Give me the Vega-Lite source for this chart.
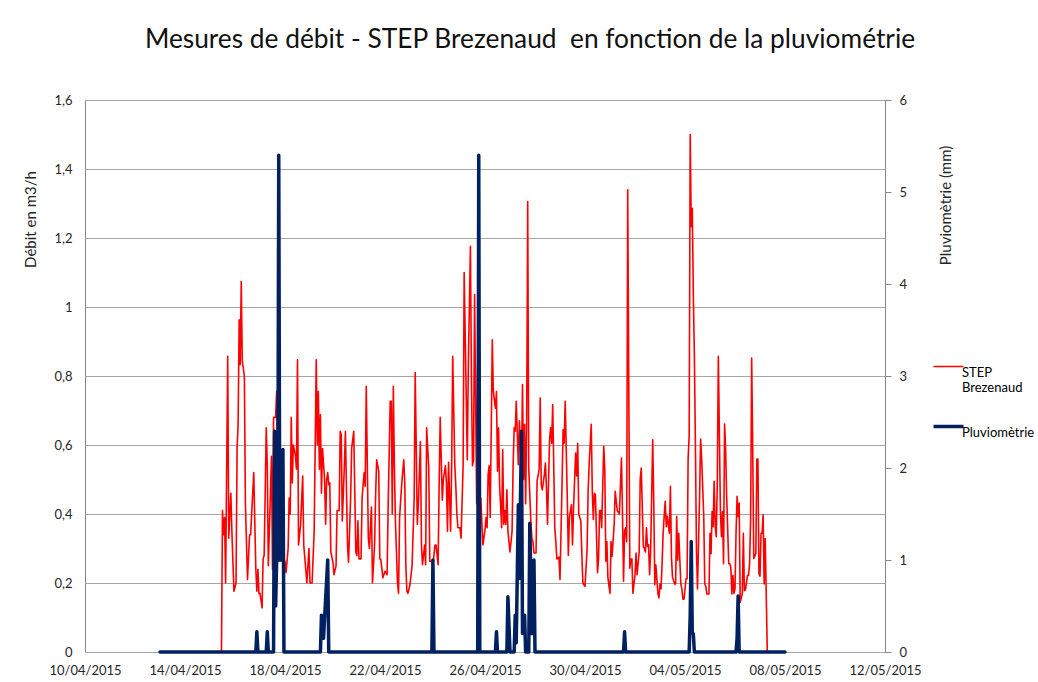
{
  "$schema": "https://vega.github.io/schema/vega-lite/v6.json",
  "width": 800,
  "height": 552,
  "autosize": {"type": "none"},
  "padding": {"left": 85, "top": 100, "right": 153, "bottom": 30},
  "background": "white",
  "title": {"text": "Mesures de débit - STEP Brezenaud\u00a0 en fonction de la pluviométrie", "font": "Lato", "fontSize": 26.3, "fontWeight": "normal", "color": "#111111", "anchor": "middle", "frame": "group", "dx": 45, "offset": 41},
  "config": {
    "view": {"stroke": "#868686", "strokeWidth": 1},
    "font": "Lato",
    "axis": {"labelFont": "Lato", "titleFont": "Lato", "labelColor": "#262626", "titleColor": "#262626", "titleFontWeight": "normal", "labelFontSize": 13, "titleFontSize": 15}
  },
  "datasets": {
    "debit": [
      {"date":"2015-04-15T11:00","debit":0},{"date":"2015-04-15T12:00","debit":0.41},{"date":"2015-04-15T13:00","debit":0.34},{"date":"2015-04-15T14:00","debit":0.39},{"date":"2015-04-15T15:00","debit":0.2},{"date":"2015-04-15T17:00","debit":0.857},{"date":"2015-04-15T18:00","debit":0.33},{"date":"2015-04-15T20:00","debit":0.46},{"date":"2015-04-15T21:00","debit":0.35},{"date":"2015-04-15T22:00","debit":0.26},{"date":"2015-04-15T23:00","debit":0.176},
      {"date":"2015-04-16T01:00","debit":0.2},{"date":"2015-04-16T02:00","debit":0.59},{"date":"2015-04-16T03:00","debit":0.66},{"date":"2015-04-16T04:00","debit":0.963},{"date":"2015-04-16T05:00","debit":0.833},{"date":"2015-04-16T06:00","debit":1.074},{"date":"2015-04-16T07:00","debit":0.843},{"date":"2015-04-16T09:00","debit":0.8},{"date":"2015-04-16T10:00","debit":0.43},{"date":"2015-04-16T12:00","debit":0.21},{"date":"2015-04-16T14:00","debit":0.34},{"date":"2015-04-16T15:00","debit":0.34},{"date":"2015-04-16T18:00","debit":0.52},{"date":"2015-04-16T20:00","debit":0.24},{"date":"2015-04-16T21:00","debit":0.176},{"date":"2015-04-16T22:00","debit":0.24},{"date":"2015-04-16T23:00","debit":0.17},
      {"date":"2015-04-17T00:00","debit":0.17},{"date":"2015-04-17T02:00","debit":0.128},{"date":"2015-04-17T03:00","debit":0.27},{"date":"2015-04-17T04:00","debit":0.28},{"date":"2015-04-17T06:00","debit":0.65},{"date":"2015-04-17T07:00","debit":0.54},{"date":"2015-04-17T08:00","debit":0.25},{"date":"2015-04-17T11:00","debit":0.567},{"date":"2015-04-17T12:00","debit":0.24},{"date":"2015-04-17T13:00","debit":0.68},{"date":"2015-04-17T15:00","debit":0.68},{"date":"2015-04-17T16:00","debit":0.756},{"date":"2015-04-17T17:00","debit":0.55},{"date":"2015-04-17T18:00","debit":0.45},{"date":"2015-04-17T20:00","debit":0.35},{"date":"2015-04-17T21:00","debit":0.3},{"date":"2015-04-17T22:00","debit":0.28},
      {"date":"2015-04-18T00:00","debit":0.26},{"date":"2015-04-18T01:00","debit":0.23},{"date":"2015-04-18T03:00","debit":0.3},{"date":"2015-04-18T04:00","debit":0.446},{"date":"2015-04-18T05:00","debit":0.4},{"date":"2015-04-18T06:00","debit":0.68},{"date":"2015-04-18T07:00","debit":0.49},{"date":"2015-04-18T08:00","debit":0.6},{"date":"2015-04-18T10:00","debit":0.57},{"date":"2015-04-18T11:00","debit":0.53},{"date":"2015-04-18T12:00","debit":0.847},{"date":"2015-04-18T13:00","debit":0.31},{"date":"2015-04-18T15:00","debit":0.37},{"date":"2015-04-18T17:00","debit":0.51},{"date":"2015-04-18T18:00","debit":0.31},{"date":"2015-04-18T21:00","debit":0.2},{"date":"2015-04-18T23:00","debit":0.3},
      {"date":"2015-04-19T00:00","debit":0.2},{"date":"2015-04-19T02:00","debit":0.2},{"date":"2015-04-19T04:00","debit":0.35},{"date":"2015-04-19T05:00","debit":0.6},{"date":"2015-04-19T06:00","debit":0.847},{"date":"2015-04-19T07:00","debit":0.6},{"date":"2015-04-19T08:00","debit":0.756},{"date":"2015-04-19T09:00","debit":0.53},{"date":"2015-04-19T10:00","debit":0.688},{"date":"2015-04-19T11:00","debit":0.46},{"date":"2015-04-19T12:00","debit":0.59},{"date":"2015-04-19T14:00","debit":0.5},{"date":"2015-04-19T15:00","debit":0.37},{"date":"2015-04-19T16:00","debit":0.5},{"date":"2015-04-19T17:00","debit":0.52},{"date":"2015-04-19T18:00","debit":0.485},{"date":"2015-04-19T19:00","debit":0.49},{"date":"2015-04-19T20:00","debit":0.29},{"date":"2015-04-19T22:00","debit":0.26},{"date":"2015-04-19T23:00","debit":0.224},
      {"date":"2015-04-20T01:00","debit":0.25},{"date":"2015-04-20T02:00","debit":0.41},{"date":"2015-04-20T04:00","debit":0.41},{"date":"2015-04-20T05:00","debit":0.64},{"date":"2015-04-20T06:00","debit":0.63},{"date":"2015-04-20T07:00","debit":0.38},{"date":"2015-04-20T09:00","debit":0.54},{"date":"2015-04-20T10:00","debit":0.64},{"date":"2015-04-20T12:00","debit":0.31},{"date":"2015-04-20T13:00","debit":0.26},{"date":"2015-04-20T15:00","debit":0.446},{"date":"2015-04-20T16:00","debit":0.59},{"date":"2015-04-20T18:00","debit":0.64},{"date":"2015-04-20T20:00","debit":0.29},{"date":"2015-04-20T21:00","debit":0.28},{"date":"2015-04-20T22:00","debit":0.38},{"date":"2015-04-20T23:00","debit":0.27},
      {"date":"2015-04-21T01:00","debit":0.27},{"date":"2015-04-21T02:00","debit":0.446},{"date":"2015-04-21T03:00","debit":0.485},{"date":"2015-04-21T04:00","debit":0.52},{"date":"2015-04-21T05:00","debit":0.48},{"date":"2015-04-21T06:00","debit":0.77},{"date":"2015-04-21T08:00","debit":0.33},{"date":"2015-04-21T09:00","debit":0.3},{"date":"2015-04-21T11:00","debit":0.42},{"date":"2015-04-21T12:00","debit":0.2},{"date":"2015-04-21T14:00","debit":0.31},{"date":"2015-04-21T15:00","debit":0.456},{"date":"2015-04-21T16:00","debit":0.557},{"date":"2015-04-21T18:00","debit":0.524},{"date":"2015-04-21T19:00","debit":0.27},{"date":"2015-04-21T20:00","debit":0.268},{"date":"2015-04-21T22:00","debit":0.215},
      {"date":"2015-04-22T00:00","debit":0.234},{"date":"2015-04-22T02:00","debit":0.224},{"date":"2015-04-22T03:00","debit":0.417},{"date":"2015-04-22T05:00","debit":0.727},{"date":"2015-04-22T06:00","debit":0.727},{"date":"2015-04-22T07:00","debit":0.4},{"date":"2015-04-22T08:00","debit":0.77},{"date":"2015-04-22T09:00","debit":0.54},{"date":"2015-04-22T10:00","debit":0.38},{"date":"2015-04-22T12:00","debit":0.2},{"date":"2015-04-22T13:00","debit":0.17},{"date":"2015-04-22T14:00","debit":0.39},{"date":"2015-04-22T16:00","debit":0.485},{"date":"2015-04-22T18:00","debit":0.557},{"date":"2015-04-22T19:00","debit":0.49},{"date":"2015-04-22T20:00","debit":0.253},{"date":"2015-04-22T21:00","debit":0.176},{"date":"2015-04-22T22:00","debit":0.17},
      {"date":"2015-04-23T00:00","debit":0.195},{"date":"2015-04-23T02:00","debit":0.25},{"date":"2015-04-23T04:00","debit":0.446},{"date":"2015-04-23T05:00","debit":0.81},{"date":"2015-04-23T07:00","debit":0.37},{"date":"2015-04-23T08:00","debit":0.427},{"date":"2015-04-23T10:00","debit":0.61},{"date":"2015-04-23T11:00","debit":0.31},{"date":"2015-04-23T12:00","debit":0.253},{"date":"2015-04-23T14:00","debit":0.31},{"date":"2015-04-23T15:00","debit":0.253},{"date":"2015-04-23T16:00","debit":0.65},{"date":"2015-04-23T18:00","debit":0.533},{"date":"2015-04-23T19:00","debit":0.263},{"date":"2015-04-23T21:00","debit":0.263},{"date":"2015-04-23T22:00","debit":0.253},
      {"date":"2015-04-24T00:00","debit":0.31},{"date":"2015-04-24T01:00","debit":0.31},{"date":"2015-04-24T03:00","debit":0.253},{"date":"2015-04-24T04:00","debit":0.49},{"date":"2015-04-24T05:00","debit":0.68},{"date":"2015-04-24T07:00","debit":0.44},{"date":"2015-04-24T08:00","debit":0.5},{"date":"2015-04-24T10:00","debit":0.54},{"date":"2015-04-24T11:00","debit":0.49},{"date":"2015-04-24T12:00","debit":0.35},{"date":"2015-04-24T13:00","debit":0.55},{"date":"2015-04-24T15:00","debit":0.35},{"date":"2015-04-24T16:00","debit":0.543},{"date":"2015-04-24T17:00","debit":0.857},{"date":"2015-04-24T19:00","debit":0.543},{"date":"2015-04-24T20:00","debit":0.48},{"date":"2015-04-24T21:00","debit":0.4},{"date":"2015-04-24T22:00","debit":0.36},
      {"date":"2015-04-25T00:00","debit":0.36},{"date":"2015-04-25T01:00","debit":0.33},{"date":"2015-04-25T03:00","debit":0.54},{"date":"2015-04-25T04:00","debit":1.1},{"date":"2015-04-25T06:00","debit":0.736},{"date":"2015-04-25T07:00","debit":0.557},{"date":"2015-04-25T08:00","debit":0.833},{"date":"2015-04-25T10:00","debit":1.176},{"date":"2015-04-25T11:00","debit":0.785},{"date":"2015-04-25T12:00","debit":0.54},{"date":"2015-04-25T13:00","debit":0.557},{"date":"2015-04-25T14:00","debit":1.036},{"date":"2015-04-25T16:00","debit":0.43},{"date":"2015-04-25T17:00","debit":0.83},{"date":"2015-04-25T18:00","debit":0.6},{"date":"2015-04-25T19:00","debit":0.35},{"date":"2015-04-25T20:00","debit":0.446},{"date":"2015-04-25T21:00","debit":0.374},{"date":"2015-04-25T22:00","debit":0.31},
      {"date":"2015-04-26T00:00","debit":0.355},{"date":"2015-04-26T01:00","debit":0.39},{"date":"2015-04-26T02:00","debit":0.36},{"date":"2015-04-26T03:00","debit":0.514},{"date":"2015-04-26T04:00","debit":0.54},{"date":"2015-04-26T05:00","debit":0.39},{"date":"2015-04-26T07:00","debit":0.905},{"date":"2015-04-26T08:00","debit":0.755},{"date":"2015-04-26T10:00","debit":0.707},{"date":"2015-04-26T11:00","debit":0.755},{"date":"2015-04-26T12:00","debit":0.524},{"date":"2015-04-26T13:00","debit":0.65},{"date":"2015-04-26T14:00","debit":0.485},{"date":"2015-04-26T16:00","debit":0.36},{"date":"2015-04-26T17:00","debit":0.586},{"date":"2015-04-26T18:00","debit":0.37},{"date":"2015-04-26T19:00","debit":0.41},{"date":"2015-04-26T20:00","debit":0.37},{"date":"2015-04-26T21:00","debit":0.47},{"date":"2015-04-26T22:00","debit":0.35},
      {"date":"2015-04-27T00:00","debit":0.29},{"date":"2015-04-27T02:00","debit":0.35},{"date":"2015-04-27T03:00","debit":0.543},{"date":"2015-04-27T04:00","debit":0.65},{"date":"2015-04-27T05:00","debit":0.64},{"date":"2015-04-27T06:00","debit":0.727},{"date":"2015-04-27T08:00","debit":0.543},{"date":"2015-04-27T09:00","debit":0.67},{"date":"2015-04-27T11:00","debit":0.533},{"date":"2015-04-27T12:00","debit":0.775},{"date":"2015-04-27T13:00","debit":0.5},{"date":"2015-04-27T14:00","debit":0.66},{"date":"2015-04-27T15:00","debit":0.43},{"date":"2015-04-27T16:00","debit":0.66},{"date":"2015-04-27T17:00","debit":1.306},{"date":"2015-04-27T18:00","debit":0.533},{"date":"2015-04-27T20:00","debit":0.38},{"date":"2015-04-27T21:00","debit":0.33},{"date":"2015-04-27T22:00","debit":0.32},{"date":"2015-04-27T23:00","debit":0.287},
      {"date":"2015-04-28T01:00","debit":0.287},{"date":"2015-04-28T02:00","debit":0.495},{"date":"2015-04-28T04:00","debit":0.53},{"date":"2015-04-28T05:00","debit":0.736},{"date":"2015-04-28T06:00","debit":0.485},{"date":"2015-04-28T07:00","debit":0.47},{"date":"2015-04-28T09:00","debit":0.514},{"date":"2015-04-28T10:00","debit":0.548},{"date":"2015-04-28T11:00","debit":0.475},{"date":"2015-04-28T12:00","debit":0.37},{"date":"2015-04-28T14:00","debit":0.615},{"date":"2015-04-28T15:00","debit":0.65},{"date":"2015-04-28T16:00","debit":0.605},{"date":"2015-04-28T17:00","debit":0.717},{"date":"2015-04-28T19:00","debit":0.36},{"date":"2015-04-28T20:00","debit":0.32},{"date":"2015-04-28T21:00","debit":0.27},{"date":"2015-04-28T23:00","debit":0.275},
      {"date":"2015-04-29T00:00","debit":0.21},{"date":"2015-04-29T02:00","debit":0.495},{"date":"2015-04-29T03:00","debit":0.644},{"date":"2015-04-29T04:00","debit":0.605},{"date":"2015-04-29T05:00","debit":0.727},{"date":"2015-04-29T07:00","debit":0.446},{"date":"2015-04-29T08:00","debit":0.28},{"date":"2015-04-29T09:00","debit":0.39},{"date":"2015-04-29T11:00","debit":0.427},{"date":"2015-04-29T12:00","debit":0.31},{"date":"2015-04-29T13:00","debit":0.417},{"date":"2015-04-29T15:00","debit":0.577},{"date":"2015-04-29T16:00","debit":0.51},{"date":"2015-04-29T17:00","debit":0.605},{"date":"2015-04-29T18:00","debit":0.4},{"date":"2015-04-29T20:00","debit":0.38},{"date":"2015-04-29T21:00","debit":0.28},{"date":"2015-04-29T22:00","debit":0.2},
      {"date":"2015-04-30T00:00","debit":0.19},{"date":"2015-04-30T02:00","debit":0.297},{"date":"2015-04-30T03:00","debit":0.466},{"date":"2015-04-30T04:00","debit":0.543},{"date":"2015-04-30T06:00","debit":0.66},{"date":"2015-04-30T07:00","debit":0.466},{"date":"2015-04-30T08:00","debit":0.384},{"date":"2015-04-30T09:00","debit":0.46},{"date":"2015-04-30T10:00","debit":0.456},{"date":"2015-04-30T12:00","debit":0.23},{"date":"2015-04-30T13:00","debit":0.27},{"date":"2015-04-30T14:00","debit":0.41},{"date":"2015-04-30T15:00","debit":0.41},{"date":"2015-04-30T16:00","debit":0.36},{"date":"2015-04-30T18:00","debit":0.596},{"date":"2015-04-30T19:00","debit":0.53},{"date":"2015-04-30T20:00","debit":0.263},{"date":"2015-04-30T21:00","debit":0.32},{"date":"2015-04-30T22:00","debit":0.215},
      {"date":"2015-05-01T00:00","debit":0.17},{"date":"2015-05-01T01:00","debit":0.32},{"date":"2015-05-01T02:00","debit":0.277},{"date":"2015-05-01T04:00","debit":0.37},{"date":"2015-05-01T05:00","debit":0.466},{"date":"2015-05-01T06:00","debit":0.437},{"date":"2015-05-01T07:00","debit":0.41},{"date":"2015-05-01T09:00","debit":0.4},{"date":"2015-05-01T11:00","debit":0.562},{"date":"2015-05-01T12:00","debit":0.4},{"date":"2015-05-01T13:00","debit":0.205},{"date":"2015-05-01T14:00","debit":0.35},{"date":"2015-05-01T15:00","debit":0.36},{"date":"2015-05-01T16:00","debit":0.32},{"date":"2015-05-01T17:00","debit":1.34},{"date":"2015-05-01T19:00","debit":0.243},{"date":"2015-05-01T20:00","debit":0.268},{"date":"2015-05-01T21:00","debit":0.27},{"date":"2015-05-01T22:00","debit":0.17},
      {"date":"2015-05-02T00:00","debit":0.224},{"date":"2015-05-02T01:00","debit":0.287},{"date":"2015-05-02T02:00","debit":0.224},{"date":"2015-05-02T04:00","debit":0.29},{"date":"2015-05-02T05:00","debit":0.5},{"date":"2015-05-02T06:00","debit":0.533},{"date":"2015-05-02T08:00","debit":0.306},{"date":"2015-05-02T09:00","debit":0.3},{"date":"2015-05-02T10:00","debit":0.29},{"date":"2015-05-02T11:00","debit":0.36},{"date":"2015-05-02T12:00","debit":0.306},{"date":"2015-05-02T13:00","debit":0.311},{"date":"2015-05-02T14:00","debit":0.224},{"date":"2015-05-02T15:00","debit":0.29},{"date":"2015-05-02T17:00","debit":0.615},{"date":"2015-05-02T18:00","debit":0.437},{"date":"2015-05-02T19:00","debit":0.195},{"date":"2015-05-02T20:00","debit":0.253},{"date":"2015-05-02T22:00","debit":0.17},{"date":"2015-05-02T23:00","debit":0.157},
      {"date":"2015-05-03T00:00","debit":0.197},{"date":"2015-05-03T01:00","debit":0.183},{"date":"2015-05-03T02:00","debit":0.256},{"date":"2015-05-03T03:00","debit":0.344},{"date":"2015-05-03T04:00","debit":0.393},{"date":"2015-05-03T05:00","debit":0.437},{"date":"2015-05-03T06:00","debit":0.363},{"date":"2015-05-03T07:00","debit":0.393},{"date":"2015-05-03T09:00","debit":0.344},{"date":"2015-05-03T10:00","debit":0.48},{"date":"2015-05-03T11:00","debit":0.275},{"date":"2015-05-03T12:00","debit":0.217},{"date":"2015-05-03T14:00","debit":0.197},{"date":"2015-05-03T15:00","debit":0.197},{"date":"2015-05-03T16:00","debit":0.393},{"date":"2015-05-03T17:00","debit":0.266},{"date":"2015-05-03T18:00","debit":0.344},{"date":"2015-05-03T20:00","debit":0.197},{"date":"2015-05-03T21:00","debit":0.183},{"date":"2015-05-03T22:00","debit":0.153},{"date":"2015-05-03T23:00","debit":0.153},
      {"date":"2015-05-04T01:00","debit":0.212},{"date":"2015-05-04T02:00","debit":0.212},{"date":"2015-05-04T03:00","debit":0.56},{"date":"2015-05-04T04:00","debit":0.627},{"date":"2015-05-04T05:00","debit":1.5},{"date":"2015-05-04T06:00","debit":1.233},{"date":"2015-05-04T07:00","debit":1.286},{"date":"2015-05-04T08:00","debit":1.037},{"date":"2015-05-04T09:00","debit":0.862},{"date":"2015-05-04T10:00","debit":0.598},{"date":"2015-05-04T11:00","debit":0.295},{"date":"2015-05-04T12:00","debit":0.183},{"date":"2015-05-04T14:00","debit":0.451},{"date":"2015-05-04T15:00","debit":0.617},{"date":"2015-05-04T16:00","debit":0.559},{"date":"2015-05-04T18:00","debit":0.393},{"date":"2015-05-04T19:00","debit":0.197},{"date":"2015-05-04T20:00","debit":0.19},{"date":"2015-05-04T21:00","debit":0.168},{"date":"2015-05-04T23:00","debit":0.168},
      {"date":"2015-05-05T00:00","debit":0.344},{"date":"2015-05-05T01:00","debit":0.285},{"date":"2015-05-05T02:00","debit":0.407},{"date":"2015-05-05T03:00","debit":0.363},{"date":"2015-05-05T04:00","debit":0.495},{"date":"2015-05-05T05:00","debit":0.363},{"date":"2015-05-05T06:00","debit":0.334},{"date":"2015-05-05T07:00","debit":0.49},{"date":"2015-05-05T08:00","debit":0.857},{"date":"2015-05-05T10:00","debit":0.407},{"date":"2015-05-05T11:00","debit":0.334},{"date":"2015-05-05T12:00","debit":0.407},{"date":"2015-05-05T13:00","debit":0.256},{"date":"2015-05-05T14:00","debit":0.661},{"date":"2015-05-05T15:00","debit":0.588},{"date":"2015-05-05T16:00","debit":0.451},{"date":"2015-05-05T18:00","debit":0.256},{"date":"2015-05-05T19:00","debit":0.256},{"date":"2015-05-05T20:00","debit":0.246},{"date":"2015-05-05T21:00","debit":0.168},{"date":"2015-05-05T22:00","debit":0.222},{"date":"2015-05-05T23:00","debit":0.17},
      {"date":"2015-05-06T00:00","debit":0.183},{"date":"2015-05-06T01:00","debit":0.344},{"date":"2015-05-06T02:00","debit":0.451},{"date":"2015-05-06T03:00","debit":0.393},{"date":"2015-05-06T04:00","debit":0.432},{"date":"2015-05-06T05:00","debit":0.144},{"date":"2015-05-06T07:00","debit":0.168},{"date":"2015-05-06T08:00","debit":0.344},{"date":"2015-05-06T09:00","debit":0.178},{"date":"2015-05-06T10:00","debit":0.18},{"date":"2015-05-06T12:00","debit":0.222},{"date":"2015-05-06T13:00","debit":0.222},{"date":"2015-05-06T14:00","debit":0.256},{"date":"2015-05-06T15:00","debit":0.383},{"date":"2015-05-06T16:00","debit":0.852},{"date":"2015-05-06T17:00","debit":0.598},{"date":"2015-05-06T18:00","debit":0.271},{"date":"2015-05-06T20:00","debit":0.285},{"date":"2015-05-06T21:00","debit":0.559},{"date":"2015-05-06T22:00","debit":0.559},{"date":"2015-05-06T23:00","debit":0.227},
      {"date":"2015-05-07T00:00","debit":0.22},{"date":"2015-05-07T01:00","debit":0.344},{"date":"2015-05-07T02:00","debit":0.344},{"date":"2015-05-07T03:00","debit":0.398},{"date":"2015-05-07T04:00","debit":0.197},{"date":"2015-05-07T05:00","debit":0.329},{"date":"2015-05-07T07:00","debit":0}
    ],
    "pluie": [
      {"date":"2015-04-13T00:00","pluie":0},
      {"date":"2015-04-16T20:00","pluie":0},{"date":"2015-04-16T21:00","pluie":0.22},{"date":"2015-04-16T22:00","pluie":0},
      {"date":"2015-04-17T06:00","pluie":0},{"date":"2015-04-17T07:00","pluie":0.22},{"date":"2015-04-17T08:00","pluie":0},
      {"date":"2015-04-17T13:00","pluie":0},{"date":"2015-04-17T14:00","pluie":2.4},{"date":"2015-04-17T15:00","pluie":0.5},{"date":"2015-04-17T16:00","pluie":1.0},{"date":"2015-04-17T17:00","pluie":1.0},{"date":"2015-04-17T18:00","pluie":5.4},{"date":"2015-04-17T19:00","pluie":1.0},{"date":"2015-04-17T20:00","pluie":1.0},{"date":"2015-04-17T21:00","pluie":1.0},{"date":"2015-04-17T22:00","pluie":2.2},{"date":"2015-04-17T23:00","pluie":0},
      {"date":"2015-04-19T10:00","pluie":0},{"date":"2015-04-19T11:00","pluie":0.4},{"date":"2015-04-19T13:00","pluie":0.15},{"date":"2015-04-19T17:00","pluie":1.0},{"date":"2015-04-19T18:00","pluie":0},
      {"date":"2015-04-23T21:00","pluie":0},{"date":"2015-04-23T22:00","pluie":1.0},{"date":"2015-04-23T23:00","pluie":0},
      {"date":"2015-04-25T17:00","pluie":0},{"date":"2015-04-25T18:00","pluie":5.4},{"date":"2015-04-25T19:00","pluie":0},
      {"date":"2015-04-26T10:00","pluie":0},{"date":"2015-04-26T11:00","pluie":0.22},{"date":"2015-04-26T12:00","pluie":0},
      {"date":"2015-04-26T21:00","pluie":0},{"date":"2015-04-26T22:00","pluie":0.6},{"date":"2015-04-27T00:00","pluie":0},{"date":"2015-04-27T04:00","pluie":0},{"date":"2015-04-27T05:00","pluie":0.4},{"date":"2015-04-27T06:00","pluie":0.1},{"date":"2015-04-27T08:00","pluie":1.6},{"date":"2015-04-27T09:00","pluie":0.8},{"date":"2015-04-27T11:00","pluie":2.4},{"date":"2015-04-27T12:00","pluie":0.2},{"date":"2015-04-27T14:00","pluie":0.4},{"date":"2015-04-27T15:00","pluie":0},{"date":"2015-04-27T18:00","pluie":0},{"date":"2015-04-27T19:00","pluie":1.4},{"date":"2015-04-27T21:00","pluie":0.2},{"date":"2015-04-27T23:00","pluie":1.0},{"date":"2015-04-28T00:00","pluie":0},
      {"date":"2015-05-01T13:00","pluie":0},{"date":"2015-05-01T14:00","pluie":0.22},{"date":"2015-05-01T15:00","pluie":0},
      {"date":"2015-05-04T04:00","pluie":0},{"date":"2015-05-04T05:00","pluie":0.4},{"date":"2015-05-04T06:00","pluie":1.2},{"date":"2015-05-04T07:00","pluie":0.2},{"date":"2015-05-04T08:00","pluie":0.2},{"date":"2015-05-04T09:00","pluie":0},
      {"date":"2015-05-06T01:00","pluie":0},{"date":"2015-05-06T02:00","pluie":0.15},{"date":"2015-05-06T03:00","pluie":0.61},{"date":"2015-05-06T04:00","pluie":0},
      {"date":"2015-05-08T00:00","pluie":0}
    ]
  },
  "encoding": {
    "x": {
      "field": "date", "type": "temporal",
      "scale": {"domain": [{"year": 2015, "month": 4, "date": 10}, {"year": 2015, "month": 5, "date": 12}]},
      "axis": {
        "values": [
          {"year": 2015, "month": 4, "date": 10}, {"year": 2015, "month": 4, "date": 14}, {"year": 2015, "month": 4, "date": 18},
          {"year": 2015, "month": 4, "date": 22}, {"year": 2015, "month": 4, "date": 26}, {"year": 2015, "month": 4, "date": 30},
          {"year": 2015, "month": 5, "date": 4}, {"year": 2015, "month": 5, "date": 8}, {"year": 2015, "month": 5, "date": 12}
        ],
        "format": "%d/%m/%Y", "title": null, "grid": false, "ticks": false, "tickSize": 0, "domain": false,
        "labelPadding": 12, "labelOverlap": false, "labelFlush": false
      }
    }
  },
  "layer": [
    {
      "data": {"name": "debit"},
      "mark": {"type": "line", "strokeWidth": 1.6, "strokeJoin": "round"},
      "encoding": {
        "y": {
          "field": "debit", "type": "quantitative",
          "scale": {"domain": [0, 1.6], "nice": false, "zero": true},
          "axis": {
            "values": [0, 0.2, 0.4, 0.6, 0.8, 1, 1.2, 1.4, 1.6],
            "labelExpr": "replace(format(datum.value, '~g'), '.', ',')",
            "title": "Débit en m3/h", "grid": true, "gridColor": "#a6a6a6", "gridWidth": 1,
            "ticks": false, "tickSize": 0, "domain": false, "labelPadding": 13,
            "titleX": -55, "titleY": 119, "titleAngle": -90, "titleAlign": "center", "titleBaseline": "middle"
          }
        },
        "color": {
          "datum": "STEP Brezenaud", "type": "nominal",
          "scale": {"domain": ["STEP Brezenaud", "Pluviomètrie"], "range": ["#ff0000", "#002060"]},
          "legend": {
            "orient": "none", "legendX": 857, "legendY": 260, "title": null, "padding": 0,
            "symbolType": "stroke", "symbolSize": 900, "symbolStrokeWidth": 2,
            "labelFont": "Lato", "labelFontSize": 13, "labelColor": "#000000", "labelBaseline": "top", "labelOffset": 7, "labelLimit": 200,
            "labelExpr": "datum.label == 'STEP Brezenaud' ? ['STEP', 'Brezenaud'] : datum.label",
            "rowPadding": 24,
            "encode": {"symbols": {"update": {"strokeWidth": {"signal": "datum.value == 'Pluviomètrie' ? 3.5 : 1.5"}}}}
          }
        }
      }
    },
    {
      "data": {"name": "pluie"},
      "mark": {"type": "line", "strokeWidth": 3.5, "strokeJoin": "round", "strokeCap": "round"},
      "encoding": {
        "y": {
          "field": "pluie", "type": "quantitative",
          "scale": {"domain": [0, 6], "nice": false, "zero": true},
          "axis": {
            "orient": "right", "values": [0, 1, 2, 3, 4, 5, 6], "title": "Pluviomètrie (mm)", "grid": false,
            "ticks": true, "tickSize": 6, "tickColor": "#868686", "domain": false, "labelPadding": 8,
            "titleX": 60, "titleY": 105, "titleAngle": -90, "titleAlign": "center", "titleBaseline": "middle"
          }
        },
        "color": {"datum": "Pluviomètrie", "type": "nominal"}
      }
    }
  ],
  "resolve": {"scale": {"y": "independent"}}
}
